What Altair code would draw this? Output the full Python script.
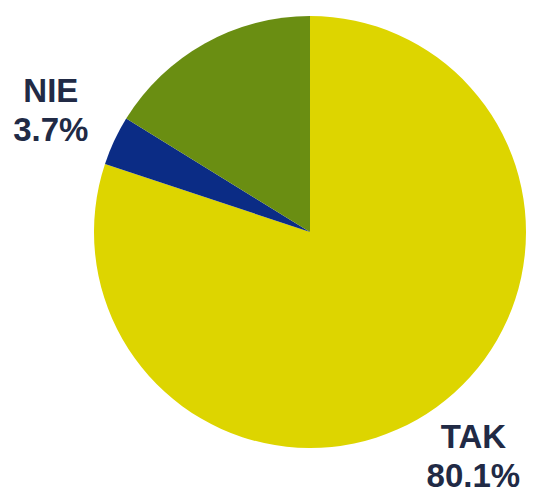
import altair as alt
import pandas as pd

categories = ["TAK", "NIE", "Inne"]
values = [80.1, 3.7, 16.2]
labels_tak = ["TAK\n80.1%", "", ""]
labels_nie = ["", "NIE\n3.7%", ""]
colors = ["#DDD500", "#0B2C85", "#6A8E12"]

df = pd.DataFrame({"cat": categories, "val": values,
                   "lab_tak": labels_tak, "lab_nie": labels_nie,
                   "order": list(range(len(categories)))})

base = alt.Chart(df).encode(
    theta=alt.Theta("val:Q", stack=True),
    order=alt.Order("order:Q"),
    x=alt.value(302),
    y=alt.value(224),
)

pie = base.mark_arc(outerRadius=216, stroke=None).encode(
    color=alt.Color("cat:N", scale=alt.Scale(domain=categories, range=colors), legend=None)
)

text_style = dict(font="Liberation Sans", fontWeight="bold", fontSize=33,
                  lineBreak="\n", lineHeight=39, color="#212A45",
                  align="center", baseline="middle")

text_tak = base.mark_text(radius=286, dx=-4, dy=-26, **text_style).encode(text="lab_tak:N")
text_nie = base.mark_text(radius=286, dy=-19, **text_style).encode(text="lab_nie:N")

chart = alt.layer(pie, text_tak, text_nie).properties(
    width=518, height=485,
    padding=0,
    autosize=alt.AutoSizeParams(type="none"),
).configure_view(stroke=None)

chart.save("out.html", embed_options={"renderer": "svg", "actions": False})
